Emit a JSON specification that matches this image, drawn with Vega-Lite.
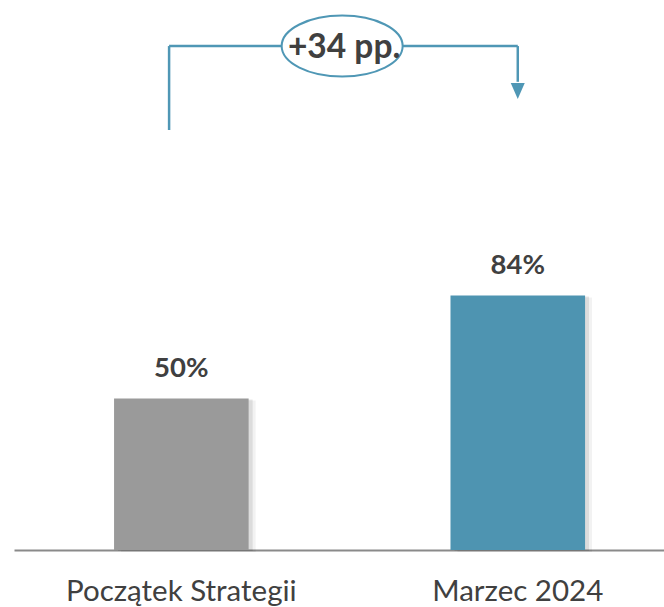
{
  "$schema": "https://vega.github.io/schema/vega-lite/v6.json",
  "width": 650,
  "height": 550,
  "autosize": {"type": "none"},
  "padding": {"left": 14, "top": 0, "right": 0, "bottom": 57},
  "config": {"view": {"stroke": null}, "font": "Lato"},
  "datasets": {
    "slupki": [
      {"kategoria": "Początek Strategii", "wartosc": 50, "etykieta": "50%"},
      {"kategoria": "Marzec 2024", "wartosc": 84, "etykieta": "84%"}
    ],
    "lewa": [{"kategoria": "Początek Strategii", "od": 138.6, "do": 166.3}],
    "pozioma": [{"od": "Początek Strategii", "do": "Marzec 2024", "poziom": 166.3}],
    "prawa": [{"kategoria": "Marzec 2024", "od": 166.3, "do": 154.5}],
    "grot": [{"kategoria": "Marzec 2024", "poziom": 151.5}],
    "roznica": [{"kategoria": "Początek Strategii", "poziom": 166.3, "tekst": "+34 pp."}]
  },
  "layer": [
    {
      "data": {"name": "slupki"},
      "mark": {"type": "bar", "color": "#000000", "opacity": 0.05, "xOffset": 7, "yOffset": 2},
      "encoding": {
        "x": {"field": "kategoria", "type": "nominal", "sort": null,
          "scale": {"domain": ["Początek Strategii", "Marzec 2024"], "paddingInner": 0.6, "paddingOuter": 0.266, "align": 0.559},
          "axis": {"title": null, "domainColor": "#8a8a8a", "domainWidth": 2, "ticks": false, "tickSize": 0,
            "labelAngle": 0, "labelFont": "Lato", "labelFontSize": 29.5, "labelColor": "#404040", "labelPadding": 27, "labelLimit": 0}},
        "y": {"field": "wartosc", "type": "quantitative", "scale": {"domain": [0, 181.5]}, "axis": null}
      }
    },
    {
      "data": {"name": "slupki"},
      "mark": {"type": "bar", "color": "#000000", "opacity": 0.09, "xOffset": 4, "yOffset": 1},
      "encoding": {
        "x": {"field": "kategoria", "type": "nominal", "sort": null, "scale": {"domain": ["Początek Strategii", "Marzec 2024"]}},
        "y": {"field": "wartosc", "type": "quantitative", "scale": {"domain": [0, 181.5]}, "axis": null}
      }
    },
    {
      "data": {"name": "slupki"},
      "mark": {"type": "bar"},
      "encoding": {
        "x": {"field": "kategoria", "type": "nominal", "sort": null, "scale": {"domain": ["Początek Strategii", "Marzec 2024"]}},
        "y": {"field": "wartosc", "type": "quantitative", "scale": {"domain": [0, 181.5]}, "axis": null},
        "color": {"field": "kategoria", "type": "nominal",
          "scale": {"domain": ["Początek Strategii", "Marzec 2024"], "range": ["#9a9a9a", "#4e94b1"]}, "legend": null}
      }
    },
    {
      "data": {"name": "slupki"},
      "mark": {"type": "text", "font": "Lato", "fontSize": 27.5, "fontWeight": "bold", "color": "#404040", "baseline": "alphabetic", "dy": -21},
      "encoding": {
        "x": {"field": "kategoria", "type": "nominal", "sort": null, "scale": {"domain": ["Początek Strategii", "Marzec 2024"]}},
        "y": {"field": "wartosc", "type": "quantitative", "scale": {"domain": [0, 181.5]}, "axis": null},
        "text": {"field": "etykieta"}
      }
    },
    {
      "data": {"name": "lewa"},
      "mark": {"type": "rule", "color": "#4f97b5", "strokeWidth": 2.5},
      "encoding": {
        "x": {"field": "kategoria", "type": "nominal", "sort": null, "scale": {"domain": ["Początek Strategii", "Marzec 2024"]}, "bandPosition": 0.409},
        "y": {"field": "od", "type": "quantitative", "scale": {"domain": [0, 181.5]}, "axis": null},
        "y2": {"field": "do"}
      }
    },
    {
      "data": {"name": "pozioma"},
      "mark": {"type": "rule", "color": "#4f97b5", "strokeWidth": 2.5},
      "encoding": {
        "x": {"field": "od", "type": "nominal", "sort": null, "scale": {"domain": ["Początek Strategii", "Marzec 2024"]}, "bandPosition": 0.409},
        "x2": {"field": "do"},
        "y": {"field": "poziom", "type": "quantitative", "scale": {"domain": [0, 181.5]}, "axis": null}
      }
    },
    {
      "data": {"name": "prawa"},
      "mark": {"type": "rule", "color": "#4f97b5", "strokeWidth": 2.5},
      "encoding": {
        "x": {"field": "kategoria", "type": "nominal", "sort": null, "scale": {"domain": ["Początek Strategii", "Marzec 2024"]}, "bandPosition": 0.5},
        "y": {"field": "od", "type": "quantitative", "scale": {"domain": [0, 181.5]}, "axis": null},
        "y2": {"field": "do"}
      }
    },
    {
      "data": {"name": "grot"},
      "mark": {"type": "point", "shape": "M -0.875 -1 L 0.875 -1 L 0 1 Z", "size": 256, "filled": true, "color": "#4f97b5", "opacity": 1},
      "encoding": {
        "x": {"field": "kategoria", "type": "nominal", "sort": null, "scale": {"domain": ["Początek Strategii", "Marzec 2024"]}, "bandPosition": 0.5},
        "y": {"field": "poziom", "type": "quantitative", "scale": {"domain": [0, 181.5]}, "axis": null}
      }
    },
    {
      "data": {"name": "roznica"},
      "mark": {"type": "point", "shape": "M -1 0 A 1 0.504 0 1 1 1 0 A 1 0.504 0 1 1 -1 0 Z", "size": 14641, "filled": true, "fill": "#ffffff", "stroke": "#4f97b5", "strokeWidth": 2, "opacity": 1},
      "encoding": {
        "x": {"field": "kategoria", "type": "nominal", "sort": null, "scale": {"domain": ["Początek Strategii", "Marzec 2024"]}, "bandPosition": 1.695},
        "y": {"field": "poziom", "type": "quantitative", "scale": {"domain": [0, 181.5]}, "axis": null}
      }
    },
    {
      "data": {"name": "roznica"},
      "mark": {"type": "text", "font": "Lato", "fontSize": 33.5, "fontWeight": "bold", "color": "#404040", "baseline": "middle", "dy": 2, "dx": 2},
      "encoding": {
        "x": {"field": "kategoria", "type": "nominal", "sort": null, "scale": {"domain": ["Początek Strategii", "Marzec 2024"]}, "bandPosition": 1.695},
        "y": {"field": "poziom", "type": "quantitative", "scale": {"domain": [0, 181.5]}, "axis": null},
        "text": {"field": "tekst"}
      }
    }
  ]
}
